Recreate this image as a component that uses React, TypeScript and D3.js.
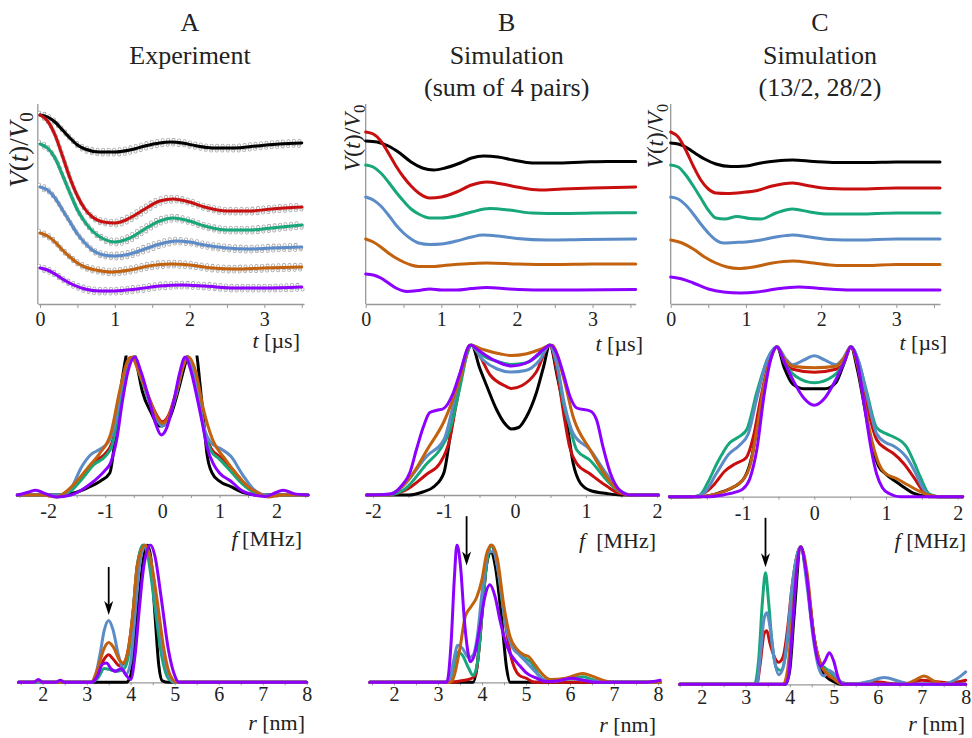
import React, { useEffect, useRef } from "react";
import * as d3 from "d3";

type Pt = [number, number];

const FONT = "Liberation Serif, Times New Roman, DejaVu Serif, Noto Serif, serif";
const lineColors = ["#000000", "#c80f0f", "#17a77b", "#5b8cc8", "#c2620f", "#8c00ff"];

// V(t)/V0 traces, t in µs, stacked offsets. order: black, red, green, blue, orange, purple
const traceA: Pt[][] = [
  [[0, 0.945], [0.1, 0.935], [0.2, 0.91], [0.3, 0.87], [0.4, 0.83], [0.5, 0.795], [0.6, 0.775], [0.8, 0.76], [1.0, 0.76], [1.2, 0.77], [1.4, 0.79], [1.6, 0.805], [1.75, 0.81], [1.9, 0.805], [2.1, 0.79], [2.3, 0.78], [2.6, 0.78], [2.9, 0.79], [3.2, 0.8], [3.5, 0.805]],
  [[0, 0.945], [0.1, 0.915], [0.2, 0.845], [0.3, 0.74], [0.4, 0.63], [0.5, 0.54], [0.6, 0.475], [0.7, 0.435], [0.85, 0.41], [1.0, 0.405], [1.2, 0.43], [1.4, 0.475], [1.6, 0.515], [1.78, 0.525], [2.0, 0.51], [2.2, 0.485], [2.5, 0.465], [2.8, 0.465], [3.1, 0.475], [3.5, 0.485]],
  [[0, 0.8], [0.1, 0.78], [0.2, 0.73], [0.3, 0.645], [0.4, 0.555], [0.5, 0.47], [0.6, 0.41], [0.7, 0.365], [0.85, 0.325], [1.0, 0.31], [1.2, 0.33], [1.4, 0.375], [1.6, 0.415], [1.78, 0.43], [2.0, 0.415], [2.2, 0.39], [2.5, 0.37], [2.8, 0.37], [3.1, 0.38], [3.5, 0.395]],
  [[0, 0.585], [0.1, 0.57], [0.2, 0.53], [0.3, 0.47], [0.4, 0.41], [0.5, 0.35], [0.6, 0.305], [0.7, 0.27], [0.85, 0.245], [1.0, 0.24], [1.2, 0.25], [1.4, 0.275], [1.6, 0.3], [1.82, 0.315], [2.0, 0.31], [2.2, 0.295], [2.5, 0.28], [2.8, 0.275], [3.1, 0.28], [3.5, 0.285]],
  [[0, 0.355], [0.1, 0.34], [0.2, 0.31], [0.3, 0.27], [0.4, 0.235], [0.5, 0.205], [0.6, 0.185], [0.75, 0.17], [0.95, 0.16], [1.2, 0.17], [1.45, 0.19], [1.75, 0.2], [2.0, 0.195], [2.3, 0.18], [2.6, 0.175], [3.0, 0.18], [3.5, 0.185]],
  [[0, 0.18], [0.1, 0.17], [0.2, 0.15], [0.3, 0.125], [0.45, 0.095], [0.6, 0.075], [0.8, 0.065], [1.0, 0.065], [1.3, 0.075], [1.6, 0.09], [1.9, 0.095], [2.2, 0.09], [2.6, 0.08], [3.0, 0.08], [3.5, 0.085]],
];

const traceB: Pt[][] = [
  [[0, 0.815], [0.15, 0.81], [0.3, 0.79], [0.45, 0.755], [0.6, 0.71], [0.75, 0.68], [0.9, 0.67], [1.05, 0.68], [1.25, 0.705], [1.4, 0.73], [1.56, 0.74], [1.75, 0.735], [1.95, 0.72], [2.2, 0.705], [2.5, 0.705], [2.9, 0.71], [3.2, 0.7125], [3.57, 0.7125]],
  [[0, 0.86], [0.1, 0.85], [0.2, 0.815], [0.3, 0.755], [0.4, 0.69], [0.5, 0.635], [0.6, 0.59], [0.7, 0.555], [0.85, 0.53], [1.0, 0.535], [1.2, 0.56], [1.4, 0.595], [1.6, 0.61], [1.8, 0.6], [2.0, 0.585], [2.3, 0.57], [2.6, 0.575], [3.0, 0.58], [3.57, 0.585]],
  [[0, 0.695], [0.1, 0.685], [0.2, 0.655], [0.3, 0.61], [0.4, 0.56], [0.5, 0.515], [0.6, 0.475], [0.7, 0.45], [0.85, 0.43], [1.0, 0.43], [1.2, 0.44], [1.4, 0.46], [1.64, 0.4775], [1.9, 0.47], [2.2, 0.455], [2.6, 0.4525], [3.0, 0.455], [3.57, 0.4565]],
  [[0, 0.535], [0.1, 0.52], [0.2, 0.49], [0.3, 0.445], [0.4, 0.395], [0.5, 0.355], [0.6, 0.325], [0.7, 0.305], [0.85, 0.2975], [1.0, 0.3], [1.2, 0.315], [1.4, 0.335], [1.55, 0.345], [1.75, 0.34], [2.0, 0.3275], [2.4, 0.32], [2.9, 0.3225], [3.57, 0.325]],
  [[0, 0.325], [0.1, 0.31], [0.2, 0.285], [0.3, 0.255], [0.4, 0.23], [0.5, 0.21], [0.6, 0.195], [0.7, 0.1875], [0.85, 0.1875], [1.1, 0.195], [1.4, 0.2025], [1.6, 0.205], [2.0, 0.2], [2.5, 0.1975], [3.0, 0.2], [3.57, 0.2]],
  [[0, 0.15], [0.1, 0.145], [0.2, 0.13], [0.3, 0.105], [0.4, 0.08], [0.55, 0.0625], [0.7, 0.0675], [0.85, 0.075], [1.0, 0.07], [1.2, 0.07], [1.4, 0.0775], [1.6, 0.0825], [1.9, 0.075], [2.3, 0.07], [2.8, 0.07], [3.57, 0.0725]],
];

const traceC: Pt[][] = [
  [[0, 0.805], [0.1, 0.8], [0.2, 0.785], [0.3, 0.76], [0.45, 0.725], [0.6, 0.7], [0.8, 0.6875], [1.0, 0.69], [1.2, 0.705], [1.4, 0.715], [1.62, 0.72], [1.9, 0.7125], [2.2, 0.7075], [2.6, 0.7075], [3.0, 0.71], [3.58, 0.71]],
  [[0, 0.86], [0.1, 0.835], [0.2, 0.77], [0.3, 0.69], [0.4, 0.62], [0.5, 0.575], [0.6, 0.555], [0.75, 0.5525], [0.95, 0.5575], [1.15, 0.5675], [1.35, 0.59], [1.62, 0.605], [1.85, 0.59], [2.1, 0.5775], [2.5, 0.575], [3.0, 0.58], [3.58, 0.58]],
  [[0, 0.695], [0.1, 0.685], [0.2, 0.645], [0.3, 0.59], [0.4, 0.53], [0.5, 0.47], [0.6, 0.43], [0.72, 0.425], [0.88, 0.4375], [1.05, 0.4275], [1.2, 0.425], [1.4, 0.455], [1.62, 0.475], [1.85, 0.46], [2.1, 0.45], [2.5, 0.45], [3.0, 0.455], [3.58, 0.455]],
  [[0, 0.535], [0.1, 0.525], [0.2, 0.495], [0.3, 0.45], [0.4, 0.4], [0.5, 0.355], [0.6, 0.32], [0.7, 0.305], [0.85, 0.3075], [1.0, 0.31], [1.2, 0.32], [1.4, 0.335], [1.62, 0.345], [1.85, 0.335], [2.1, 0.3225], [2.5, 0.32], [3.0, 0.325], [3.58, 0.325]],
  [[0, 0.32], [0.15, 0.305], [0.3, 0.275], [0.45, 0.235], [0.6, 0.205], [0.75, 0.185], [0.9, 0.1775], [1.1, 0.185], [1.35, 0.205], [1.62, 0.215], [1.9, 0.205], [2.2, 0.1925], [2.6, 0.1925], [3.0, 0.1975], [3.58, 0.1975]],
  [[0, 0.135], [0.15, 0.125], [0.3, 0.105], [0.5, 0.075], [0.7, 0.06], [0.93, 0.055], [1.15, 0.06], [1.4, 0.075], [1.7, 0.085], [2.0, 0.0775], [2.4, 0.07], [3.0, 0.07], [3.58, 0.07]],
];

// dipolar spectra, f in MHz, normalised
const specA: Pt[][] = [
  [[-2.54, 0], [-1.8, 0], [-1.5, 0.02], [-1.27, 0.06], [-1.09, 0.1], [-0.92, 0.16], [-0.83, 0.4], [-0.75, 0.7], [-0.68, 0.9], [-0.6, 1.06], [-0.53, 1.08], [-0.45, 0.95], [-0.35, 0.75], [-0.2, 0.6], [-0.05, 0.5], [0.05, 0.51], [0.15, 0.58], [0.28, 0.76], [0.4, 0.95], [0.5, 1.08], [0.58, 1.06], [0.66, 0.8], [0.72, 0.55], [0.78, 0.3], [0.87, 0.16], [1.0, 0.1], [1.2, 0.06], [1.4, 0.02], [1.7, 0], [2.55, 0]],
  [[-2.54, 0], [-1.8, 0], [-1.6, 0.04], [-1.4, 0.14], [-1.2, 0.24], [-1.0, 0.3], [-0.88, 0.38], [-0.78, 0.58], [-0.68, 0.85], [-0.58, 0.99], [-0.5, 1.0], [-0.4, 0.88], [-0.25, 0.72], [-0.1, 0.58], [0, 0.53], [0.1, 0.57], [0.25, 0.76], [0.38, 0.96], [0.45, 1.0], [0.55, 0.9], [0.65, 0.68], [0.75, 0.45], [0.85, 0.34], [1.0, 0.28], [1.2, 0.2], [1.4, 0.1], [1.6, 0.02], [1.8, 0], [2.55, 0]],
  [[-2.54, 0], [-1.8, 0], [-1.6, 0.03], [-1.4, 0.12], [-1.2, 0.22], [-1.0, 0.28], [-0.88, 0.36], [-0.78, 0.56], [-0.68, 0.84], [-0.58, 0.98], [-0.5, 1.0], [-0.4, 0.88], [-0.25, 0.7], [-0.1, 0.55], [0, 0.5], [0.1, 0.55], [0.25, 0.74], [0.38, 0.96], [0.45, 1.0], [0.55, 0.9], [0.65, 0.66], [0.75, 0.43], [0.85, 0.32], [1.0, 0.26], [1.2, 0.17], [1.4, 0.08], [1.6, 0.02], [1.8, 0], [2.55, 0]],
  [[-2.54, 0], [-1.8, 0], [-1.6, 0.05], [-1.42, 0.2], [-1.26, 0.29], [-1.1, 0.33], [-0.95, 0.38], [-0.83, 0.52], [-0.72, 0.78], [-0.6, 0.96], [-0.5, 1.0], [-0.4, 0.9], [-0.25, 0.7], [-0.1, 0.56], [0, 0.5], [0.1, 0.55], [0.25, 0.75], [0.38, 0.96], [0.45, 1.0], [0.55, 0.9], [0.65, 0.66], [0.75, 0.46], [0.85, 0.38], [1.0, 0.34], [1.2, 0.28], [1.4, 0.15], [1.6, 0.04], [1.8, 0], [2.55, 0]],
  [[-2.54, 0], [-2.1, 0], [-1.85, -0.015], [-1.7, 0.02], [-1.5, 0.1], [-1.3, 0.2], [-1.1, 0.3], [-0.9, 0.45], [-0.75, 0.75], [-0.62, 0.96], [-0.54, 1.0], [-0.42, 0.9], [-0.25, 0.72], [-0.1, 0.57], [0, 0.52], [0.1, 0.56], [0.25, 0.75], [0.38, 0.95], [0.46, 1.0], [0.58, 0.9], [0.72, 0.62], [0.88, 0.4], [1.1, 0.26], [1.3, 0.15], [1.5, 0.06], [1.7, 0.01], [1.85, -0.015], [2.1, 0], [2.55, 0]],
  [[-2.54, 0], [-2.35, 0.02], [-2.22, 0.035], [-2.05, 0.01], [-1.85, -0.015], [-1.6, 0], [-1.4, 0.04], [-1.2, 0.1], [-1.0, 0.18], [-0.91, 0.23], [-0.8, 0.4], [-0.7, 0.68], [-0.6, 0.9], [-0.48, 1.0], [-0.38, 0.9], [-0.25, 0.72], [-0.12, 0.52], [-0.02, 0.435], [0.08, 0.49], [0.2, 0.68], [0.3, 0.88], [0.4, 1.0], [0.5, 0.9], [0.6, 0.72], [0.7, 0.52], [0.78, 0.35], [0.9, 0.22], [1.0, 0.16], [1.2, 0.1], [1.4, 0.03], [1.6, 0], [1.8, -0.01], [2.0, 0.02], [2.12, 0.035], [2.3, 0.01], [2.55, 0]],
];

const specB: Pt[][] = [
  [[-2.09, 0], [-1.5, 0], [-1.3, 0.02], [-1.13, 0.06], [-1.0, 0.15], [-0.92, 0.37], [-0.83, 0.63], [-0.72, 0.88], [-0.61, 1.0], [-0.5, 0.85], [-0.4, 0.73], [-0.26, 0.57], [-0.15, 0.48], [-0.05, 0.44], [0.05, 0.45], [0.16, 0.52], [0.3, 0.68], [0.4, 0.85], [0.49, 1.0], [0.6, 0.78], [0.73, 0.48], [0.82, 0.21], [0.92, 0.08], [1.06, 0.03], [1.29, 0.01], [1.48, 0], [2.02, 0]],
  [[-2.09, 0], [-1.8, 0], [-1.55, 0.03], [-1.24, 0.14], [-1.06, 0.21], [-0.92, 0.37], [-0.83, 0.6], [-0.7, 0.9], [-0.62, 1.0], [-0.5, 0.93], [-0.35, 0.8], [-0.15, 0.73], [-0.05, 0.71], [0.1, 0.73], [0.3, 0.82], [0.49, 1.0], [0.6, 0.8], [0.7, 0.5], [0.77, 0.32], [0.87, 0.21], [1.06, 0.14], [1.29, 0.06], [1.48, 0.01], [1.7, 0], [2.02, 0]],
  [[-2.09, 0], [-1.8, 0], [-1.55, 0.04], [-1.24, 0.21], [-1.06, 0.3], [-0.92, 0.43], [-0.77, 0.73], [-0.67, 0.95], [-0.61, 1.0], [-0.45, 0.93], [-0.25, 0.89], [-0.05, 0.87], [0.15, 0.88], [0.35, 0.94], [0.49, 1.0], [0.6, 0.85], [0.68, 0.62], [0.77, 0.46], [0.87, 0.3], [1.06, 0.23], [1.29, 0.1], [1.48, 0.02], [1.65, 0], [2.02, 0]],
  [[-2.09, 0], [-1.8, 0], [-1.58, 0.06], [-1.24, 0.26], [-1.0, 0.37], [-0.87, 0.6], [-0.75, 0.85], [-0.63, 1.0], [-0.45, 0.9], [-0.25, 0.84], [-0.05, 0.82], [0.15, 0.83], [0.35, 0.9], [0.49, 1.0], [0.6, 0.85], [0.7, 0.6], [0.82, 0.41], [1.06, 0.3], [1.29, 0.14], [1.48, 0.03], [1.65, 0], [2.02, 0]],
  [[-2.09, 0], [-1.8, 0], [-1.58, 0.06], [-1.4, 0.17], [-1.24, 0.3], [-1.0, 0.49], [-0.77, 0.78], [-0.63, 1.0], [-0.45, 0.97], [-0.2, 0.94], [-0.05, 0.93], [0.15, 0.94], [0.35, 0.97], [0.52, 1.0], [0.68, 0.79], [0.82, 0.52], [1.06, 0.3], [1.29, 0.12], [1.48, 0.02], [1.62, 0], [2.02, 0]],
  [[-2.09, 0], [-1.85, 0.003], [-1.72, 0.01], [-1.6, 0.06], [-1.48, 0.15], [-1.39, 0.3], [-1.29, 0.455], [-1.2, 0.55], [-1.1, 0.565], [-1.01, 0.575], [-0.87, 0.68], [-0.77, 0.82], [-0.63, 1.0], [-0.5, 0.96], [-0.3, 0.9], [-0.05, 0.86], [0.2, 0.89], [0.4, 0.97], [0.5, 1.0], [0.6, 0.93], [0.68, 0.81], [0.78, 0.65], [0.87, 0.58], [1.06, 0.56], [1.15, 0.5], [1.24, 0.32], [1.34, 0.15], [1.48, 0.03], [1.62, 0], [2.02, 0]],
];

const specC: Pt[][] = [
  [[-2.02, 0], [-1.6, 0], [-1.3, 0.03], [-1.0, 0.11], [-0.88, 0.25], [-0.76, 0.58], [-0.64, 0.88], [-0.52, 1.0], [-0.42, 0.86], [-0.3, 0.75], [-0.15, 0.72], [0, 0.72], [0.15, 0.72], [0.3, 0.76], [0.4, 0.87], [0.51, 1.0], [0.6, 0.85], [0.7, 0.6], [0.8, 0.35], [0.9, 0.2], [1.0, 0.15], [1.2, 0.08], [1.4, 0.02], [1.6, 0], [2.07, 0]],
  [[-2.02, 0], [-1.7, 0], [-1.55, 0.02], [-1.4, 0.08], [-1.25, 0.17], [-1.1, 0.22], [-0.95, 0.26], [-0.85, 0.4], [-0.75, 0.65], [-0.62, 0.92], [-0.52, 1.0], [-0.42, 0.9], [-0.3, 0.85], [0, 0.83], [0.3, 0.85], [0.42, 0.9], [0.51, 1.0], [0.62, 0.88], [0.73, 0.62], [0.87, 0.38], [1.0, 0.32], [1.1, 0.29], [1.25, 0.22], [1.4, 0.12], [1.5, 0.05], [1.6, 0.01], [1.75, 0], [2.07, 0]],
  [[-2.02, 0], [-1.7, 0], [-1.6, 0.01], [-1.48, 0.1], [-1.36, 0.22], [-1.18, 0.36], [-1.05, 0.4], [-0.94, 0.45], [-0.8, 0.7], [-0.65, 0.92], [-0.52, 1.0], [-0.4, 0.88], [-0.25, 0.8], [0, 0.76], [0.25, 0.8], [0.4, 0.88], [0.51, 1.0], [0.62, 0.9], [0.73, 0.7], [0.87, 0.46], [1.0, 0.42], [1.1, 0.4], [1.29, 0.33], [1.4, 0.22], [1.48, 0.13], [1.6, 0.02], [1.75, 0], [2.07, 0]],
  [[-2.02, 0], [-1.7, 0], [-1.55, 0.02], [-1.36, 0.16], [-1.2, 0.28], [-1.05, 0.34], [-0.92, 0.42], [-0.8, 0.66], [-0.65, 0.92], [-0.52, 1.0], [-0.4, 0.92], [-0.3, 0.88], [-0.15, 0.91], [0, 0.94], [0.15, 0.91], [0.3, 0.88], [0.4, 0.92], [0.51, 1.0], [0.62, 0.9], [0.73, 0.68], [0.87, 0.42], [1.0, 0.36], [1.1, 0.34], [1.29, 0.26], [1.4, 0.17], [1.5, 0.07], [1.6, 0.01], [1.75, 0], [2.07, 0]],
  [[-2.02, 0], [-1.6, 0], [-1.35, 0.02], [-1.15, 0.06], [-1.0, 0.11], [-0.9, 0.2], [-0.8, 0.45], [-0.7, 0.75], [-0.6, 0.93], [-0.52, 1.0], [-0.42, 0.92], [-0.3, 0.87], [0, 0.86], [0.3, 0.87], [0.42, 0.93], [0.51, 1.0], [0.6, 0.88], [0.7, 0.62], [0.8, 0.38], [0.9, 0.22], [0.98, 0.16], [1.15, 0.12], [1.3, 0.08], [1.45, 0.04], [1.6, 0.01], [1.75, 0], [2.07, 0]],
  [[-2.02, 0], [-1.5, 0], [-1.3, 0.01], [-1.1, 0.03], [-1.0, 0.05], [-0.9, 0.12], [-0.8, 0.32], [-0.7, 0.68], [-0.6, 0.93], [-0.52, 1.0], [-0.42, 0.9], [-0.3, 0.78], [-0.15, 0.66], [0, 0.61], [0.15, 0.66], [0.3, 0.78], [0.42, 0.9], [0.51, 1.0], [0.6, 0.9], [0.7, 0.6], [0.8, 0.3], [0.87, 0.15], [0.95, 0.06], [1.05, 0.02], [1.2, 0], [2.07, 0]],
];

// distance distributions, r in nm, normalised
const distA: Pt[][] = [
  [[1.45, 0], [3.9, 0], [4.0, 0.05], [4.1, 0.3], [4.2, 0.65], [4.3, 0.92], [4.38, 1.0], [4.46, 0.9], [4.55, 0.5], [4.64, 0.12], [4.72, 0.01], [4.85, 0], [8, 0]],
  [[1.45, 0], [3.1, 0], [3.25, 0.06], [3.4, 0.17], [3.5, 0.2], [3.6, 0.17], [3.75, 0.12], [3.85, 0.14], [3.95, 0.25], [4.05, 0.5], [4.15, 0.85], [4.3, 1.0], [4.42, 0.9], [4.55, 0.6], [4.7, 0.25], [4.85, 0.05], [5.0, 0], [8, 0]],
  [[1.45, 0], [3.1, 0], [3.25, 0.03], [3.4, 0.1], [3.55, 0.09], [3.7, 0.08], [3.85, 0.1], [3.95, 0.2], [4.05, 0.5], [4.15, 0.85], [4.28, 1.0], [4.4, 0.9], [4.55, 0.55], [4.7, 0.2], [4.85, 0.03], [5.0, 0], [8, 0]],
  [[1.45, 0], [3.1, 0], [3.2, 0.05], [3.3, 0.2], [3.4, 0.38], [3.5, 0.45], [3.6, 0.38], [3.72, 0.2], [3.82, 0.1], [3.9, 0.06], [4.0, 0.15], [4.1, 0.5], [4.2, 0.85], [4.33, 1.0], [4.45, 0.9], [4.6, 0.55], [4.75, 0.2], [4.9, 0.03], [5.0, 0], [8, 0]],
  [[1.45, 0], [1.8, 0], [1.9, 0.015], [2.0, 0], [3.1, 0], [3.25, 0.1], [3.4, 0.25], [3.5, 0.29], [3.6, 0.26], [3.75, 0.16], [3.82, 0.14], [3.92, 0.2], [4.05, 0.5], [4.15, 0.85], [4.33, 1.0], [4.45, 0.9], [4.6, 0.6], [4.75, 0.25], [4.9, 0.05], [5.05, 0], [8, 0]],
  [[1.45, 0], [1.8, 0], [1.9, 0.02], [2.0, 0], [2.3, 0], [2.4, 0.015], [2.5, 0], [3.1, 0], [3.25, 0.05], [3.35, 0.13], [3.45, 0.14], [3.55, 0.1], [3.65, 0.08], [3.78, 0.1], [3.9, 0.05], [4.0, 0.02], [4.1, 0.2], [4.2, 0.55], [4.3, 0.85], [4.45, 1.0], [4.55, 0.92], [4.7, 0.6], [4.85, 0.25], [5.0, 0.05], [5.1, 0], [8, 0]],
];

const distB: Pt[][] = [
  [[1.45, 0], [3.8, 0], [3.88, 0.1], [4.0, 0.5], [4.1, 0.85], [4.2, 0.95], [4.3, 0.85], [4.45, 0.45], [4.56, 0.1], [4.64, 0], [8.05, 0]],
  [[1.45, 0], [3.3, 0], [3.5, 0.01], [3.7, 0.02], [3.85, 0.05], [3.95, 0.3], [4.05, 0.7], [4.2, 1.0], [4.35, 0.85], [4.5, 0.5], [4.65, 0.2], [4.85, 0.05], [5.0, 0.03], [5.2, 0], [8.05, 0]],
  [[1.45, 0], [3.25, 0], [3.35, 0.1], [3.45, 0.22], [3.55, 0.2], [3.7, 0.1], [3.8, 0.05], [3.9, 0.15], [4.0, 0.5], [4.1, 0.85], [4.22, 1.0], [4.35, 0.85], [4.5, 0.5], [4.65, 0.3], [4.8, 0.22], [4.95, 0.18], [5.1, 0.15], [5.3, 0.05], [5.5, 0.01], [5.8, 0.02], [6.1, 0.03], [6.3, 0.04], [6.5, 0.02], [6.8, 0], [8.05, 0]],
  [[1.45, 0], [3.25, 0], [3.35, 0.15], [3.45, 0.27], [3.55, 0.25], [3.7, 0.18], [3.8, 0.2], [3.9, 0.35], [4.0, 0.65], [4.15, 0.95], [4.25, 0.95], [4.4, 0.75], [4.55, 0.4], [4.7, 0.25], [4.85, 0.2], [5.0, 0.15], [5.2, 0.08], [5.4, 0.02], [5.7, 0.01], [6.0, 0.03], [6.2, 0.02], [6.5, 0.01], [8.05, 0]],
  [[1.45, 0], [3.27, 0], [3.35, 0.03], [3.5, 0.25], [3.62, 0.48], [3.75, 0.55], [3.88, 0.62], [4.0, 0.75], [4.1, 0.93], [4.22, 1.0], [4.35, 0.9], [4.5, 0.55], [4.64, 0.33], [4.8, 0.24], [4.95, 0.2], [5.05, 0.19], [5.2, 0.13], [5.4, 0.05], [5.55, 0.02], [5.9, 0.03], [6.1, 0.05], [6.3, 0.065], [6.5, 0.045], [6.8, 0.01], [7.0, 0], [8.05, 0]],
  [[1.45, 0], [3.2, 0], [3.3, 0.3], [3.37, 0.75], [3.43, 1.0], [3.51, 0.85], [3.6, 0.45], [3.68, 0.22], [3.73, 0.15], [3.83, 0.2], [3.95, 0.4], [4.05, 0.6], [4.18, 0.71], [4.3, 0.62], [4.41, 0.45], [4.53, 0.3], [4.64, 0.21], [4.75, 0.16], [4.86, 0.12], [5.0, 0.07], [5.24, 0.03], [5.45, 0.005], [5.7, 0.01], [6.05, 0.03], [6.3, 0.015], [6.6, 0], [7.7, 0], [8.05, 0.015]],
];

const distC: Pt[][] = [
  [[1.5, 0], [3.9, 0], [4.0, 0.1], [4.1, 0.5], [4.25, 1.0], [4.4, 0.75], [4.55, 0.35], [4.7, 0.12], [4.85, 0.05], [5.0, 0.02], [5.15, 0], [8, 0]],
  [[1.5, 0], [3.25, 0], [3.33, 0.15], [3.42, 0.37], [3.48, 0.39], [3.55, 0.3], [3.65, 0.2], [3.75, 0.16], [3.85, 0.2], [3.95, 0.4], [4.05, 0.7], [4.25, 1.0], [4.4, 0.75], [4.55, 0.35], [4.7, 0.15], [4.85, 0.07], [5.0, 0.04], [5.2, 0.01], [5.5, 0], [5.9, 0.02], [6.2, 0.01], [6.6, 0], [7.0, 0.03], [7.3, 0.02], [7.6, 0.01], [8.0, 0.03]],
  [[1.5, 0], [3.2, 0], [3.3, 0.2], [3.38, 0.6], [3.45, 0.81], [3.52, 0.6], [3.6, 0.3], [3.7, 0.12], [3.8, 0.1], [3.9, 0.2], [4.0, 0.45], [4.12, 0.85], [4.25, 1.0], [4.38, 0.8], [4.5, 0.45], [4.6, 0.25], [4.7, 0.15], [4.8, 0.12], [4.95, 0.08], [5.1, 0.03], [5.3, 0], [8, 0]],
  [[1.5, 0], [3.25, 0], [3.33, 0.2], [3.42, 0.48], [3.48, 0.52], [3.56, 0.4], [3.65, 0.18], [3.75, 0.07], [3.85, 0.12], [3.95, 0.35], [4.05, 0.7], [4.25, 1.0], [4.4, 0.7], [4.55, 0.3], [4.68, 0.1], [4.78, 0.06], [4.9, 0.1], [5.0, 0.08], [5.15, 0.02], [5.4, 0], [5.8, 0.02], [6.15, 0.05], [6.5, 0.02], [6.8, 0], [7.3, 0], [7.6, 0.01], [7.8, 0.04], [8.0, 0.09]],
  [[1.5, 0], [3.85, 0], [3.95, 0.1], [4.05, 0.45], [4.25, 1.0], [4.4, 0.8], [4.55, 0.35], [4.7, 0.15], [4.85, 0.08], [5.0, 0.04], [5.2, 0], [6.6, 0], [6.85, 0.03], [7.05, 0.06], [7.3, 0.02], [7.6, 0], [8, 0]],
  [[1.5, 0], [3.9, 0], [3.97, 0.05], [4.05, 0.35], [4.15, 0.8], [4.25, 1.0], [4.38, 0.8], [4.5, 0.45], [4.62, 0.2], [4.7, 0.13], [4.8, 0.17], [4.9, 0.23], [5.0, 0.17], [5.1, 0.05], [5.2, 0], [8, 0]],
];

const traceTicks = [0, 1, 2, 3];
const freqTicksAB = [-2, -1, 0, 1, 2];
const freqTicksC = [-1, 0, 1, 2];
const distTicks = [2, 3, 4, 5, 6, 7, 8];

const titles = [
  ["A", "Experiment", ""],
  ["B", "Simulation", "(sum of 4 pairs)"],
  ["C", "Simulation", "(13/2, 28/2)"],
];

// arrow position (r) marking the short-distance peak in each distance panel
const arrowR = [3.5, 3.65, 3.45];

const panels = [
  { row: 0, data: traceA, dots: true, xd: [-0.03, 3.53], xr: [37.8, 304], yr: [304, 104], ticks: traceTicks, minor: d3.range(0, 3.51, 0.5), pad: 5 },
  { row: 0, data: traceB, dots: false, xd: [0, 3.57], xr: [365.7, 635.7], yr: [304, 104], ticks: traceTicks, minor: d3.range(0, 3.51, 0.5), pad: 5 },
  { row: 0, data: traceC, dots: false, xd: [0, 3.58], xr: [670.7, 940], yr: [304, 104], ticks: traceTicks, minor: d3.range(0, 3.51, 0.5), pad: 5 },
  { row: 1, data: specA, dots: false, xd: [-2.54, 2.55], xr: [17.3, 308], yr: [495, 357], ticks: freqTicksAB, minor: d3.range(-2.5, 2.51, 0.5), pad: 6 },
  { row: 1, data: specB, dots: false, xd: [-2.09, 2.02], xr: [366.6, 658.4], yr: [495, 345], ticks: freqTicksAB, minor: d3.range(-2, 2.01, 0.5), pad: 6 },
  { row: 1, data: specC, dots: false, xd: [-2.02, 2.07], xr: [669.5, 962.7], yr: [496.7, 346.7], ticks: freqTicksC, minor: d3.range(-2, 2.01, 0.5), pad: 6 },
  { row: 2, data: distA, dots: false, xd: [1.45, 8], xr: [18.5, 306.7], yr: [682.3, 545], ticks: distTicks, minor: d3.range(1.5, 8.01, 0.5), pad: 2 },
  { row: 2, data: distB, dots: false, xd: [1.45, 8.05], xr: [369.8, 660.2], yr: [682.3, 545], ticks: distTicks, minor: d3.range(1.5, 8.01, 0.5), pad: 2 },
  { row: 2, data: distC, dots: false, xd: [1.5, 8], xr: [679.7, 965.7], yr: [684.3, 546.7], ticks: distTicks, minor: d3.range(1.5, 8.01, 0.5), pad: 3 },
];

const App = () => {
  const ref = useRef<SVGSVGElement>(null);

  useEffect(() => {
    const svg = d3.select(ref.current);
    svg.selectAll("*").remove();
    svg.append("rect").attr("width", 972).attr("height", 738).attr("fill", "#fff");
    const defs = svg.append("defs");

    const addText = (parent: any, x: number, y: number, parts: [string, string?][], size: number, anchor = "middle") => {
      const t = parent
        .append("text")
        .attr("x", x)
        .attr("y", y)
        .attr("text-anchor", anchor)
        .attr("fill", "#222")
        .style("font-size", `${size}px`)
        .style("font-family", FONT);
      parts.forEach(([s, st]) => {
        const sp = t.append("tspan").text(s);
        if (st === "i") sp.style("font-style", "italic");
      });
      return t;
    };

    panels.forEach((p, i) => {
      const x = d3.scaleLinear().domain(p.xd).range(p.xr);
      const y = d3.scaleLinear().domain([0, 1]).range(p.yr);
      const g = svg.append("g");

      // x axis
      const ax = g.append("g").attr("transform", `translate(0,${p.yr[0]})`);
      ax.call(
        d3.axisBottom(x).tickValues(p.minor.filter((v) => v >= p.xd[0] && v <= p.xd[1])).tickSize(p.row === 0 ? 4 : 3).tickSizeOuter(0).tickFormat(() => "")
      );
      ax.select(".domain").attr("stroke", "#999").attr("stroke-width", 1.3);
      ax.selectAll(".tick line").attr("stroke", "#999").attr("stroke-width", 1);
      const lab = g.append("g").attr("transform", `translate(0,${p.yr[0]})`);
      lab.call(d3.axisBottom(x).tickValues(p.ticks).tickSize(0).tickPadding(p.pad + 3).tickFormat((d: any) => String(d)));
      lab.select(".domain").remove();
      lab.attr("font-family", null).attr("font-size", null);
      lab.selectAll("text").attr("fill", "#222").style("font-size", "20px").style("font-family", FONT);

      // y axis only for the time traces
      if (p.row === 0) {
        g.append("line")
          .attr("x1", p.xr[0]).attr("x2", p.xr[0])
          .attr("y1", p.yr[0]).attr("y2", p.yr[1])
          .attr("stroke", "#999").attr("stroke-width", 1.3);
      }

      const clipId = `clip${i}`;
      defs.append("clipPath").attr("id", clipId)
        .append("rect")
        .attr("x", p.xr[0] - 4).attr("y", p.yr[1] - 1.5)
        .attr("width", p.xr[1] - p.xr[0] + 8).attr("height", p.yr[0] - p.yr[1] + 12);

      const line = d3.line<Pt>().x((d) => x(d[0])).y((d) => y(d[1])).curve(d3.curveMonotoneX);
      const plot = g.append("g").attr("clip-path", `url(#${clipId})`);

      // experimental data points (open grey circles) around each trace
      if (p.dots) {
        const shifts = [[-1, -2.3, 0], [1.3, 2.5, 2.7], [0.4, 0.6, 1.3]];
        p.data.forEach((s) => {
          shifts.forEach(([dx, dy, off]) => {
            plot.append("path").attr("d", line(s)).attr("transform", `translate(${dx},${dy})`)
              .attr("fill", "none").attr("stroke", "#a5a5a5").attr("stroke-width", 4)
              .attr("stroke-linecap", "round").attr("stroke-dasharray", "0 5.5").attr("stroke-dashoffset", off);
            plot.append("path").attr("d", line(s)).attr("transform", `translate(${dx},${dy})`)
              .attr("fill", "none").attr("stroke", "#fff").attr("stroke-width", 2.4)
              .attr("stroke-linecap", "round").attr("stroke-dasharray", "0 5.5").attr("stroke-dashoffset", off);
          });
        });
      }

      p.data.forEach((s, k) => {
        plot.append("path").attr("d", line(s))
          .attr("fill", "none").attr("stroke", lineColors[k]).attr("stroke-width", 3)
          .attr("stroke-linejoin", "round").attr("stroke-linecap", "round");
      });

      // arrows in distance panels
      if (p.row === 2) {
        const col = i - 6;
        const ax0 = x(arrowR[col]);
        const tail = col === 0 ? y(0.84) : y(1.21);
        const tip = col === 0 ? y(0.49) : y(0.85);
        g.append("line").attr("x1", ax0).attr("x2", ax0).attr("y1", tail).attr("y2", tip - 8)
          .attr("stroke", "#000").attr("stroke-width", 1.8);
        g.append("path")
          .attr("d", `M${ax0},${tip} L${ax0 - 4.5},${tip - 14} L${ax0},${tip - 10} L${ax0 + 4.5},${tip - 14} Z`)
          .attr("fill", "#000");
      }
    });

    // titles
    const titleX = [190, 506.7, 820];
    titles.forEach((tl, c) => {
      addText(svg, titleX[c], 31, [[tl[0]]], 26);
      addText(svg, titleX[c], 64, [[tl[1]]], 26);
      if (tl[2]) addText(svg, titleX[c], 96, [[tl[2]]], 26);
    });

    // y labels V(t)/V0
    const yLab = [
      { x: 28, y: 150, size: 27 },
      { x: 360, y: 138, size: 24 },
      { x: 663, y: 136, size: 23 },
    ];
    yLab.forEach((l) => {
      const t = svg.append("text")
        .attr("transform", `translate(${l.x},${l.y}) rotate(-90)`)
        .attr("text-anchor", "middle")
        .attr("fill", "#222")
        .style("font-size", `${l.size}px`)
        .style("font-family", FONT);
      t.append("tspan").style("font-style", "italic").text("V");
      t.append("tspan").text("(");
      t.append("tspan").style("font-style", "italic").text("t");
      t.append("tspan").text(")/");
      t.append("tspan").style("font-style", "italic").text("V");
      t.append("tspan").style("font-size", `${Math.round(l.size * 0.7)}px`).attr("dy", 5).text("0");
    });

    // axis titles
    addText(svg, 300, 348, [["t", "i"], [" [µs]"]], 22, "end");
    addText(svg, 643, 351, [["t", "i"], [" [µs]"]], 22, "end");
    addText(svg, 947, 350, [["t", "i"], [" [µs]"]], 22, "end");
    addText(svg, 302, 546, [["f", "i"], ["\u2009[MHz]"]], 22, "end");
    addText(svg, 656, 548, [["f", "i"], ["\u00a0\u00a0[MHz]"]], 22, "end");
    addText(svg, 966, 548, [["f", "i"], [" [MHz]"]], 22, "end");
    addText(svg, 305, 730, [["r", "i"], [" [nm]"]], 22, "end");
    addText(svg, 656, 732, [["r", "i"], [" [nm]"]], 22, "end");
    addText(svg, 965, 731, [["r", "i"], [" [nm]"]], 22, "end");
  }, []);

  return (
    <svg
      ref={ref}
      width={972}
      height={738}
      style={{ position: "absolute", left: 0, top: 0, display: "block" }}
    />
  );
};

export default App;
